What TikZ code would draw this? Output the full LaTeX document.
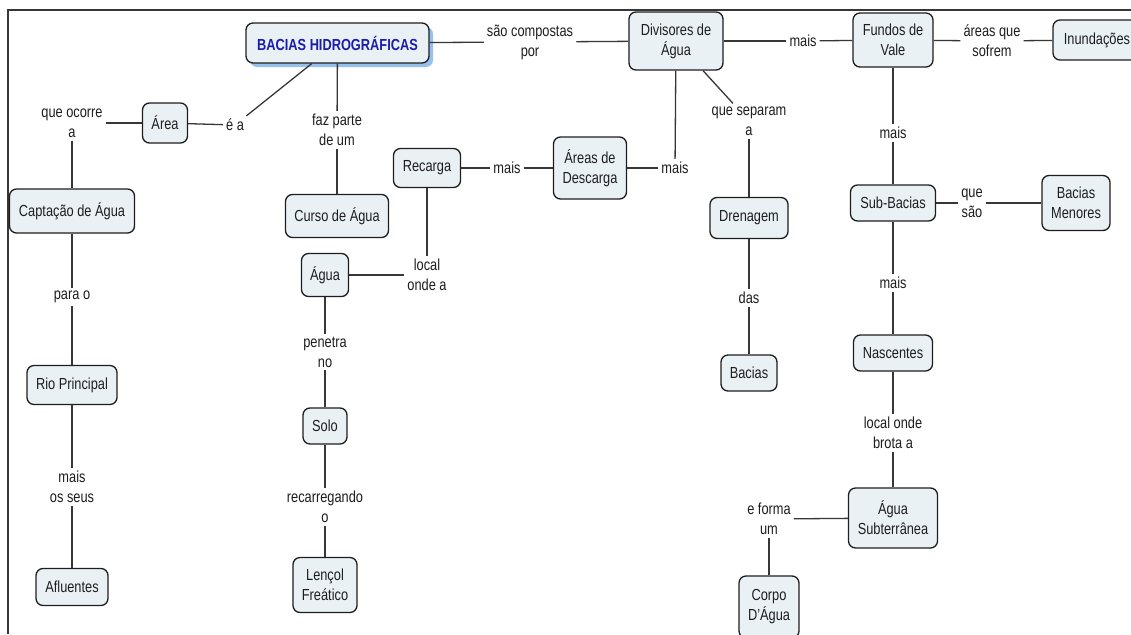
\documentclass[tikz,border=0pt]{standalone}
\usepackage{fontspec}
\setmainfont{Liberation Sans}[FakeStretch=0.8]
\definecolor{boxfill}{RGB}{234,241,245}
\definecolor{ink}{RGB}{30,30,30}
\definecolor{edge}{RGB}{55,55,55}
\definecolor{titleblue}{RGB}{28,28,170}
\definecolor{shadowblue}{RGB}{150,192,238}
\tikzset{
  concept/.style={draw=ink, line width=1.3pt, rounded corners=7pt, fill=boxfill,
    align=center, inner sep=2pt, text=ink},
  linklbl/.style={align=center, inner sep=3pt, text=ink},
  conn/.style={draw=edge, line width=1.3pt},
  frameline/.style={draw=edge, line width=1.6pt},
}
\begin{document}
\begin{tikzpicture}[x=1pt, y=-1pt, font=\fontsize{16}{20}\selectfont]
\useasboundingbox (0,0) rectangle (1131,634);
\fill[white] (0,0) rectangle (1131,634);
\draw[frameline] (8,634) -- (8,10) -- (1131,10);

% main concept with its blue shadow
\node[fill=shadowblue, rounded corners=7pt, minimum width=183, minimum height=40, inner sep=0pt] (baciashadow) at (341.5,47) {};
\node[concept, minimum width=183, minimum height=40, text=titleblue, font=\fontsize{16}{20}\selectfont\bfseries] (bacias) at (337.5,43) {BACIAS HIDROGRÁFICAS};

% left branch
\node[concept, minimum width=45, minimum height=40] (area) at (165,123) {Área};
\node[linklbl] (ea) at (235,125) {é a};
\node[linklbl] (qoa) at (72,123) {que ocorre\\a};
\node[concept, minimum width=125, minimum height=44] (capt) at (72,211) {Captação de Água};
\node[linklbl] (parao) at (72,297) {para o};
\node[concept, minimum width=90, minimum height=39] (rio) at (72,385) {Rio Principal};
\node[linklbl] (maisos) at (72,487) {mais\\os seus};
\node[concept, minimum width=72, minimum height=37] (aflu) at (72,587) {Afluentes};

% water course and soil branch
\node[linklbl] (faz) at (337,130) {faz parte\\de um};
\node[concept, minimum width=103, minimum height=43] (curso) at (337,216) {Curso de Água};
\node[concept, minimum width=47, minimum height=43] (agua) at (325,275) {Água};
\node[linklbl] (local) at (427,275) {local\\onde a};
\node[concept, minimum width=67, minimum height=39] (recarga) at (427,168) {Recarga};
\node[linklbl] (mais1) at (507,168) {mais};
\node[concept, minimum width=73, minimum height=62] (descarga) at (590,168) {Áreas de\\Descarga};
\node[linklbl] (mais2) at (675,168) {mais};
\node[linklbl] (penetra) at (325,352) {penetra\\no};
\node[concept, minimum width=44, minimum height=36] (solo) at (325,426) {Solo};
\node[linklbl] (recarr) at (325,507) {recarregando\\o};
\node[concept, minimum width=64, minimum height=55] (lencol) at (325,585) {Lençol\\Freático};

% divides and valley floors
\node[linklbl] (sao) at (530,42) {são compostas\\por};
\node[concept, minimum width=94, minimum height=58] (div) at (676,41) {Divisores de\\Água};
\node[linklbl] (mais3) at (803,41) {mais};
\node[concept, minimum width=80, minimum height=54] (fundos) at (893,40) {Fundos de\\Vale};
\node[linklbl] (areasq) at (992,41) {áreas que\\sofrem};
\node[concept, minimum width=88, minimum height=40] (inund) at (1097,40) {Inundações};
\node[linklbl] (sep) at (749,121) {que separam\\a};
\node[concept, minimum width=78, minimum height=41] (dren) at (749,218) {Drenagem};
\node[linklbl] (das) at (749,298) {das};
\node[concept, minimum width=56, minimum height=36] (bacias2) at (749,373) {Bacias};

% sub-basins and springs
\node[linklbl] (mais4) at (893,133) {mais};
\node[concept, minimum width=85, minimum height=36] (sub) at (893,203) {Sub-Bacias};
\node[linklbl] (ques) at (972,203) {que\\são};
\node[concept, minimum width=68, minimum height=55] (menores) at (1076,203) {Bacias\\Menores};
\node[linklbl] (mais5) at (893,283) {mais};
\node[concept, minimum width=79, minimum height=36] (nasc) at (893,353) {Nascentes};
\node[linklbl] (brota) at (893,433) {local onde\\brota a};
\node[concept, minimum width=89, minimum height=60] (subt) at (893,518) {Água\\Subterrânea};
\node[linklbl] (forma) at (769,519) {e forma\\um};
\node[concept, minimum width=60, minimum height=62] (corpo) at (769,607) {Corpo\\D'Água};

% connectors
\draw[conn] (area) -- (ea);
\draw[conn] (ea) -- (bacias);
\draw[conn] (area) -- (qoa);
\draw[conn] (qoa) -- (capt);
\draw[conn] (capt) -- (parao);
\draw[conn] (parao) -- (rio);
\draw[conn] (rio) -- (maisos);
\draw[conn] (maisos) -- (aflu);
\draw[conn] (bacias) -- (faz);
\draw[conn] (faz) -- (curso);
\draw[conn] (agua) -- (local);
\draw[conn] (local) -- (recarga);
\draw[conn] (recarga) -- (mais1);
\draw[conn] (mais1) -- (descarga);
\draw[conn] (descarga) -- (mais2);
\draw[conn] (mais2) -- (div);
\draw[conn] (agua) -- (penetra);
\draw[conn] (penetra) -- (solo);
\draw[conn] (solo) -- (recarr);
\draw[conn] (recarr) -- (lencol);
\draw[conn] (bacias) -- (sao);
\draw[conn] (sao) -- (div);
\draw[conn] (div) -- (mais3);
\draw[conn] (mais3) -- (fundos);
\draw[conn] (fundos) -- (areasq);
\draw[conn] (areasq) -- (inund);
\draw[conn] (div) -- (sep);
\draw[conn] (sep) -- (dren);
\draw[conn] (dren) -- (das);
\draw[conn] (das) -- (bacias2);
\draw[conn] (fundos) -- (mais4);
\draw[conn] (mais4) -- (sub);
\draw[conn] (sub) -- (ques);
\draw[conn] (ques) -- (menores);
\draw[conn] (sub) -- (mais5);
\draw[conn] (mais5) -- (nasc);
\draw[conn] (nasc) -- (brota);
\draw[conn] (brota) -- (subt);
\draw[conn] (subt) -- (forma);
\draw[conn] (forma) -- (corpo);
\end{tikzpicture}
\end{document}
